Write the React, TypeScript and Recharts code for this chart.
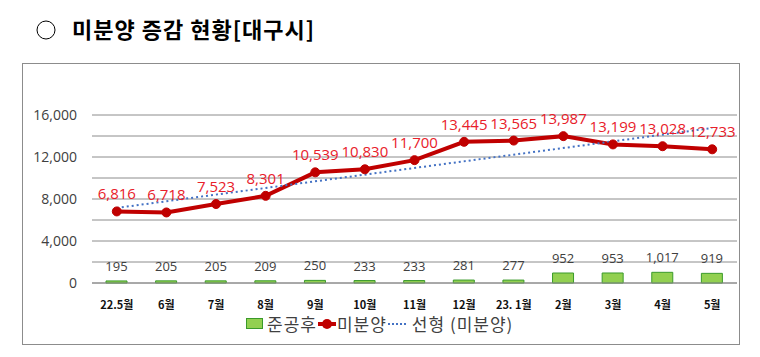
import {
  ComposedChart,
  Bar,
  Line,
  XAxis,
  YAxis,
  CartesianGrid,
} from "recharts";

const categories = [
  "22.5월", "6월", "7월", "8월", "9월", "10월", "11월",
  "12월", "23. 1월", "2월", "3월", "4월", "5월",
];
const completedUnsold = [195, 205, 205, 209, 250, 233, 233, 281, 277, 952, 953, 1017, 919];
const unsold = [6816, 6718, 7523, 8301, 10539, 10830, 11700, 13445, 13565, 13987, 13199, 13028, 12733];
// linear trend endpoints
const trendStart = 7150;
const trendEnd = 14760;
const yTicks = [0, 2000, 4000, 6000, 8000, 10000, 12000, 14000, 16000];

const data = categories.map((name, i) => ({
  name,
  completed: completedUnsold[i],
  unsold: unsold[i],
  trend: i === 0 ? trendStart : i === categories.length - 1 ? trendEnd : null,
}));

const fmt = (v: number) => v.toLocaleString("en-US");
const FONT = "'Noto Sans CJK KR', 'Noto Sans', sans-serif";
const NUM_FONT = "'Open Sans', 'Noto Sans', sans-serif";

const RedLabel = (props: any) => {
  const { x, y, value } = props;
  return (
    <text x={x} y={y - 12} textAnchor="middle" fill="#e8202a" fontSize={15} fontFamily={NUM_FONT}>
      {fmt(value)}
    </text>
  );
};

const BarLabel = (props: any) => {
  const { x, y, width, value } = props;
  return (
    <text x={x + width / 2} y={y - 10} textAnchor="middle" fill="#404040" fontSize={13} fontFamily={NUM_FONT}>
      {fmt(value)}
    </text>
  );
};

const App = () => {
  return (
    <div style={{ position: "absolute", left: 0, top: 0, width: 760, height: 357, background: "#fff", fontFamily: FONT }}>
      <svg style={{ position: "absolute", left: 0, top: 0 }} width={760} height={60}>
        <circle cx={46} cy={30} r={9} fill="none" stroke="#000" strokeWidth={1} />
        <text x={72} y={38} fontSize={22} fontWeight="bold" fontFamily={FONT} fill="#000" letterSpacing={1}>
          미분양 증감 현황[대구시]
        </text>
      </svg>
      <div
        style={{
          position: "absolute",
          left: 22,
          top: 63,
          width: 716,
          height: 280,
          border: "1px solid #8c8c8c",
        }}
      />
      <div style={{ position: "absolute", left: 0, top: 0 }}>
        <ComposedChart
          width={760}
          height={357}
          data={data}
          margin={{ top: 115, right: 23, bottom: 0, left: 32 }}
        >
          <CartesianGrid vertical={false} stroke="#8c8c8c" />
          <XAxis
            dataKey="name"
            height={74}
            tickSize={0}
            tickMargin={18}
            axisLine={{ stroke: "#8c8c8c" }}
            tick={{ fill: "#111", fontSize: 11, fontWeight: "bold", fontFamily: FONT }}
          />
          <YAxis
            width={60}
            domain={[0, 16000]}
            ticks={yTicks}
            interval={0}
            tickSize={0}
            tickMargin={15}
            axisLine={false}
            tickFormatter={(v: number) => (v % 4000 === 0 ? fmt(v) : "")}
            tick={{ fill: "#404040", fontSize: 14, fontFamily: NUM_FONT }}
          />
          <Bar
            dataKey="completed"
            barSize={21}
            fill="#92d050"
            stroke="#3a9a2a"
            strokeWidth={1}
            isAnimationActive={false}
            label={<BarLabel />}
          />
          <Line
            dataKey="unsold"
            stroke="#c00000"
            strokeWidth={4}
            dot={{ r: 4.5, fill: "#c00000", stroke: "#c00000", strokeWidth: 1 }}
            isAnimationActive={false}
            label={<RedLabel />}
          />
          <Line
            dataKey="trend"
            stroke="#4472c4"
            strokeWidth={2}
            strokeDasharray="2 3"
            dot={false}
            connectNulls
            isAnimationActive={false}
          />
        </ComposedChart>
      </div>
      <div
        style={{
          position: "absolute",
          left: 246,
          top: 311,
          display: "flex",
          alignItems: "center",
          fontSize: 17,
          letterSpacing: 1,
          color: "#404040",
          whiteSpace: "nowrap",
        }}
      >
        <span style={{ display: "inline-block", width: 15, height: 9, background: "#92d050", border: "1px solid #3a9a2a", marginRight: 4 }} />
        <span>준공후</span>
        <svg width={18} height={12} style={{ margin: "0 1px" }}>
          <line x1={0} y1={6} x2={18} y2={6} stroke="#c00000" strokeWidth={4} />
          <circle cx={9} cy={6} r={5} fill="#c00000" />
        </svg>
        <span>미분양</span>
        <svg width={20} height={12} style={{ margin: "0 4px 0 1px" }}>
          <line x1={0} y1={6} x2={20} y2={6} stroke="#4472c4" strokeWidth={2} strokeDasharray="2 2" />
        </svg>
        <span>선형 (미분양)</span>
      </div>
    </div>
  );
};

export default App;
